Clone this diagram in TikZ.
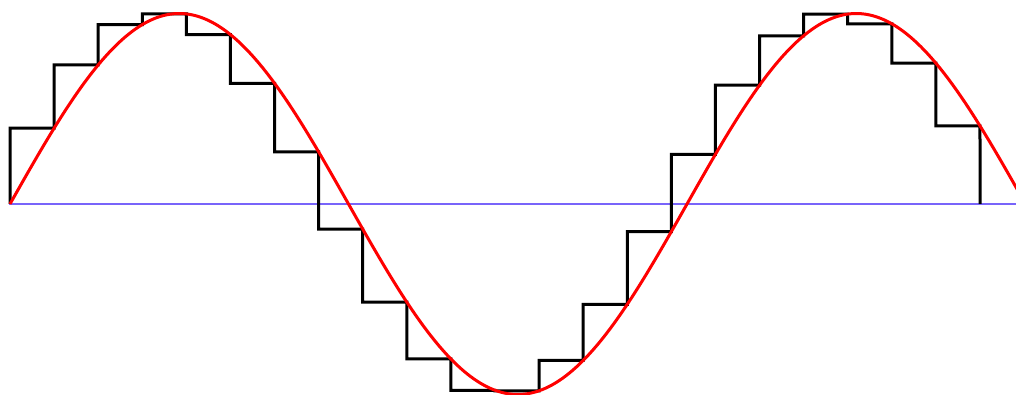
\documentclass[tikz,border=0pt]{standalone}
\definecolor{axisblue}{RGB}{120,100,250}
\definecolor{sinred}{RGB}{255,0,0}
\tikzset{
  declare function={f(\x)=204-190.5*sin(0.531758*(\x-10));},
  axisline/.style={draw=axisblue, line width=1.8pt},
  stairline/.style={draw=black, line width=3pt, line join=miter},
  sineline/.style={draw=sinred, line width=3pt, line join=round}
}
\begin{document}
\begin{tikzpicture}[x=1pt,y=-1pt]
\useasboundingbox (0,0) rectangle (1016,395);
\clip (0,0) rectangle (1016,395);
\coordinate (axL) at (9,204);
\coordinate (axR) at (1016,204);
\draw[axisline] (axL) -- (axR);
\draw[stairline] (10,204)
  \foreach \k in {0,...,21} {
    -- ({10+44.09*\k}, {f(10+44.09*(\k+1))})
    -- ({10+44.09*(\k+1)}, {f(10+44.09*(\k+1))})
  } -- (980,204);
\draw[sineline] plot[domain=10:1030, samples=300] (\x, {f(\x)});
\end{tikzpicture}
\end{document}
